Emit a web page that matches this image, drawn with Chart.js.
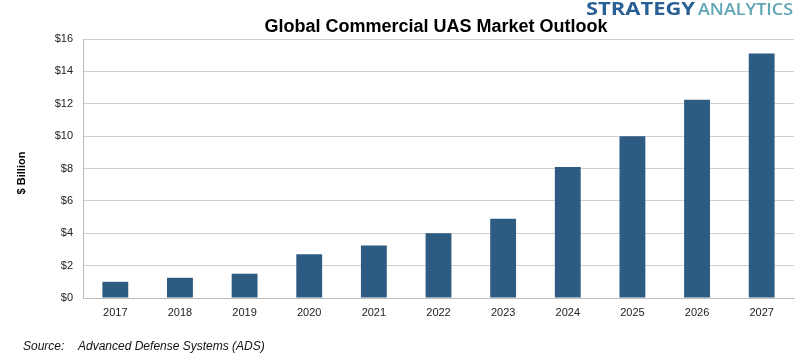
<!DOCTYPE html>
<html lang="en">
<head>
<meta charset="UTF-8">
<title>Global Commercial UAS Market Outlook</title>
<script src="https://cdn.jsdelivr.net/npm/chart.js"></script>
<style>
  html, body { margin: 0; padding: 0; background: #fff; }
  #wrap { width: 800px; height: 360px; position: relative; }
</style>
</head>
<body>
<div id="wrap"><canvas id="uasChart"></canvas></div>
<script>
// data ($ billion)
const years = ['2017', '2018', '2019', '2020', '2021', '2022', '2023', '2024', '2025', '2026', '2027'];
const marketValues = [1.0, 1.25, 1.5, 2.7, 3.25, 4.0, 4.9, 8.1, 10.0, 12.25, 15.1];
const yTicks = [0, 2, 4, 6, 8, 10, 12, 14, 16];

const FONT = '"Liberation Sans", Arial, sans-serif';
const BRAND_FONT = '"Open Sans", "Noto Sans", sans-serif';

// draw a word squeezed/stretched to a given width
function fitText(ctx, txt, x, y, width) {
    const m = ctx.measureText(txt).width;
    ctx.save();
    ctx.translate(x, y);
    ctx.scale(width / m, 1);
    ctx.fillText(txt, 0, 0);
    ctx.restore();
}

// title, brand, axis title and source note drawn straight on the canvas
const textPlugin = {
    id: 'extraText',
    afterDraw(chart) {
        const ctx = chart.ctx;
        ctx.save();
        ctx.fillStyle = '#000';
        ctx.font = 'bold 18px ' + FONT;
        ctx.textAlign = 'center';
        ctx.textBaseline = 'alphabetic';
        ctx.fillText('Global Commercial UAS Market Outlook', 436, 32);

        // brand
        ctx.textAlign = 'left';
        ctx.font = 'bold 17px ' + BRAND_FONT;
        ctx.fillStyle = '#2a5f96';
        fitText(ctx, 'STRATEGY', 586, 15, 109);
        ctx.font = '600 17px ' + BRAND_FONT;
        ctx.fillStyle = '#62a6b6';
        fitText(ctx, 'ANALYTICS', 698, 15, 95);

        // y axis title
        ctx.fillStyle = '#000';
        ctx.font = 'bold 11px ' + FONT;
        ctx.translate(22, 173);
        ctx.rotate(-Math.PI / 2);
        ctx.textAlign = 'center';
        ctx.textBaseline = 'middle';
        ctx.fillText('$ Billion', 0, 0);
        ctx.restore();

        ctx.save();
        ctx.fillStyle = '#111';
        ctx.font = 'italic 12px ' + FONT;
        ctx.textBaseline = 'middle';
        ctx.fillText('Source:', 23, 347);
        ctx.fillText('Advanced Defense Systems (ADS)', 78, 347);
        ctx.restore();
    }
};

new Chart(document.getElementById('uasChart'), {
    type: 'bar',
    data: {
        labels: years,
        datasets: [{
            label: 'Market',
            data: marketValues,
            backgroundColor: '#2e5b82',
            barPercentage: 0.4,
            categoryPercentage: 1.0
        }]
    },
    options: {
        responsive: true,
        maintainAspectRatio: false,
        animation: false,
        layout: { padding: { top: 39, right: 6, left: 0, bottom: 0 } },
        plugins: {
            legend: { display: false },
            title: { display: false },
            tooltip: { enabled: false }
        },
        scales: {
            x: {
                grid: { display: false, drawTicks: false },
                border: { color: '#bdbdbd' },
                ticks: { color: '#222', font: { family: FONT, size: 11 }, padding: 8, maxRotation: 0 },
                afterFit(scale) { scale.height = 62; }
            },
            y: {
                min: 0,
                max: 16,
                afterBuildTicks(scale) { scale.ticks = yTicks.map(v => ({ value: v })); },
                grid: { color: '#cfcfcf', drawTicks: false },
                border: { color: '#bdbdbd' },
                ticks: {
                    color: '#222',
                    font: { family: FONT, size: 11 },
                    padding: 10,
                    callback: v => '$' + v
                },
                afterFit(scale) { scale.width = 83; }
            }
        }
    },
    plugins: [textPlugin]
});
</script>
</body>
</html>
